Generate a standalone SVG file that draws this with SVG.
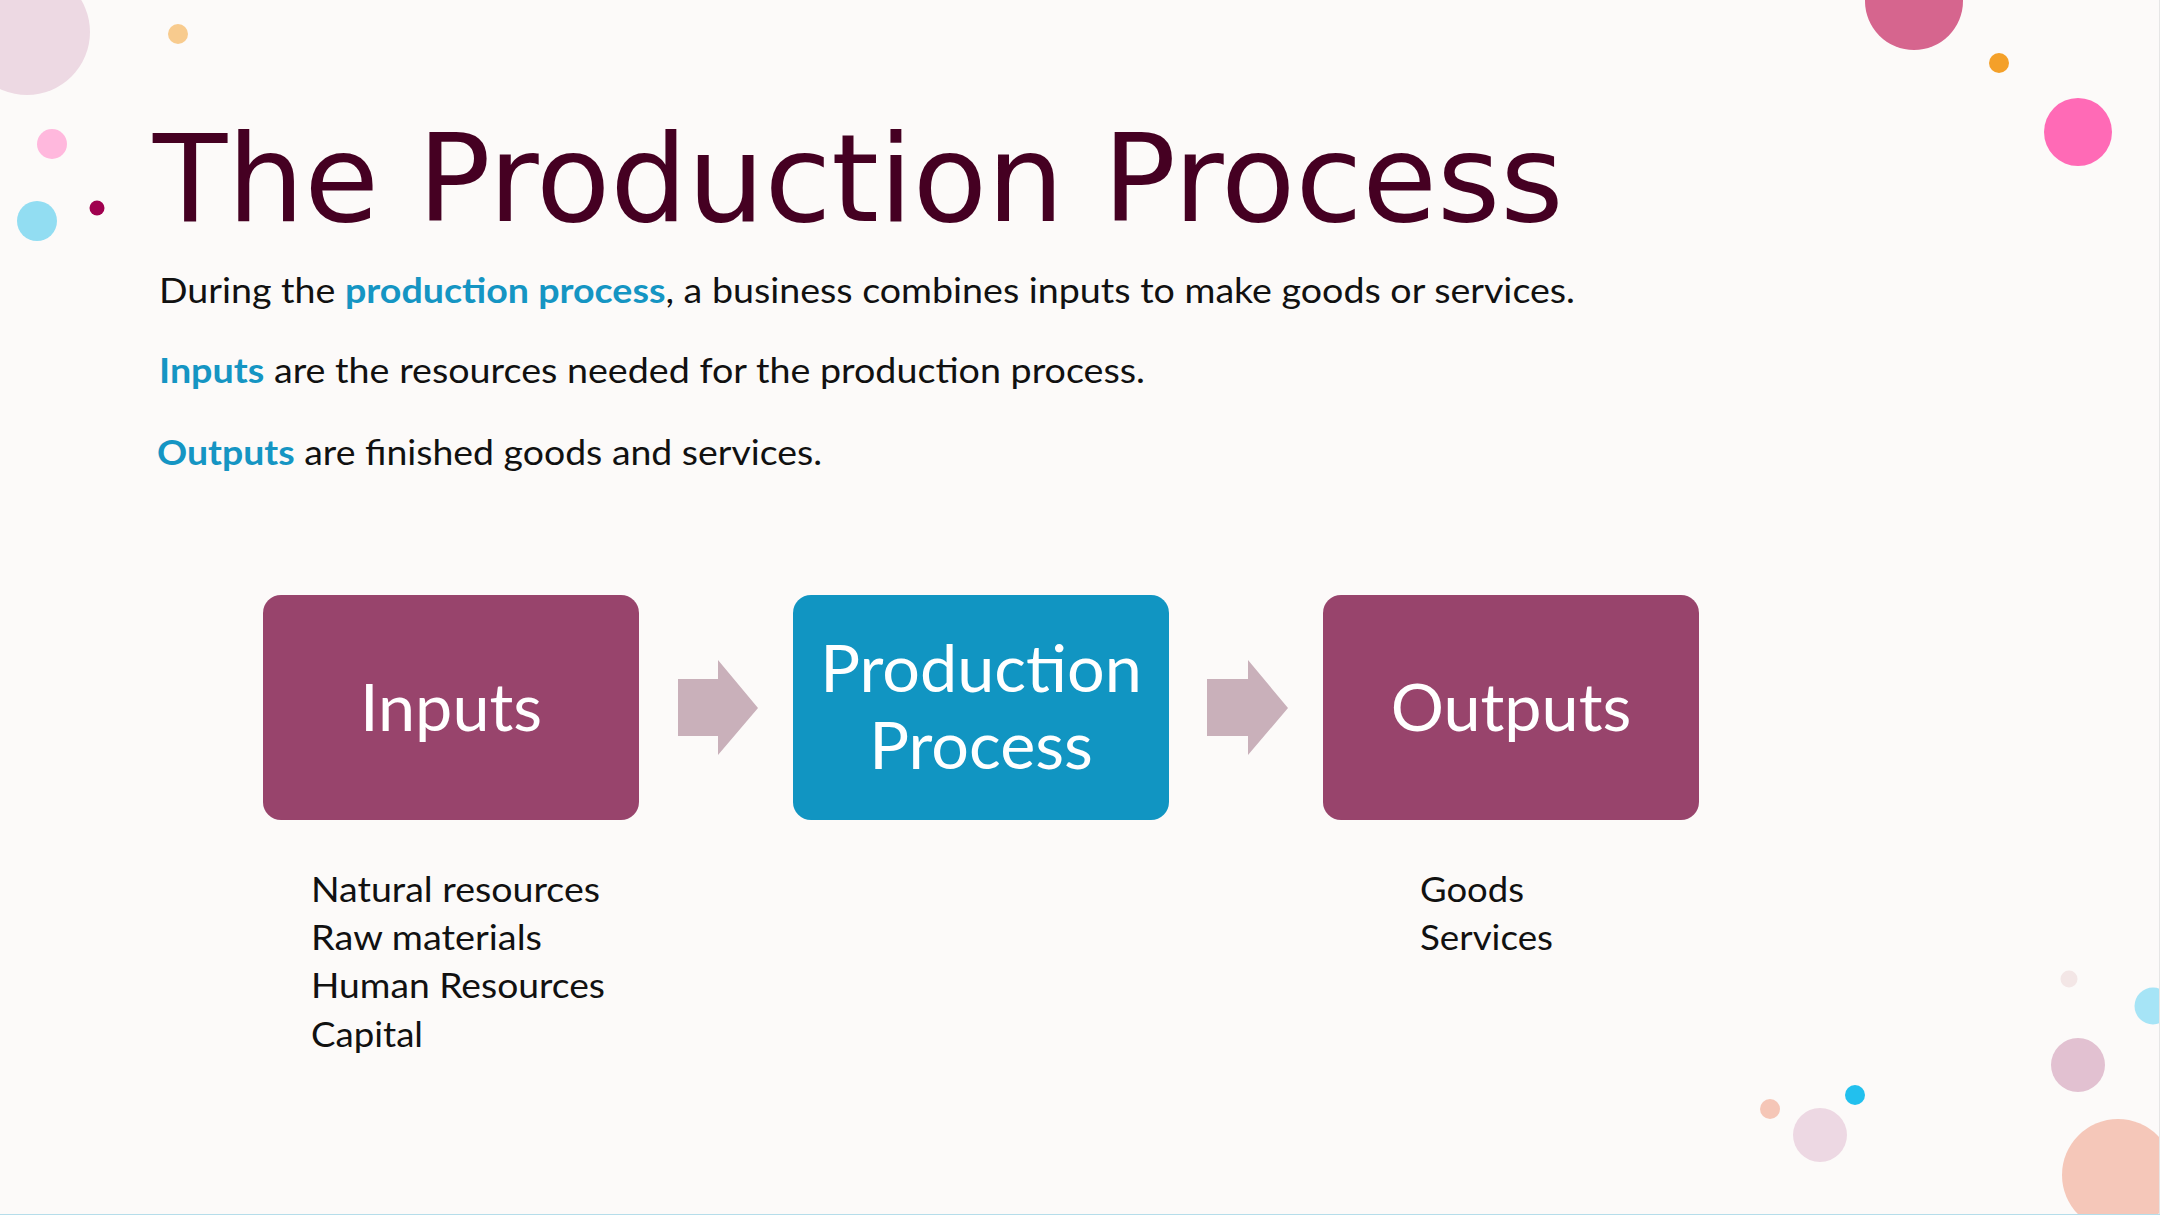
<svg xmlns="http://www.w3.org/2000/svg" width="2160" height="1215" viewBox="0 0 2160 1215">
<defs>
<style>
.body{font-family:Lato,"Open Sans","Liberation Sans",sans-serif;font-size:34px;fill:#111}
.hl{fill:#1595C3;font-weight:bold}
.box{stroke:none}
.boxtxt{font-family:Lato,"Open Sans","Liberation Sans",sans-serif;font-size:66.5px;fill:#fff;text-anchor:middle}
.arrow{fill:#C9B0BA}
.list{font-family:Lato,"Open Sans","Liberation Sans",sans-serif;font-size:34px;fill:#111}
</style>
</defs>
<rect x="0" y="0" width="2160" height="1215" fill="#FCFAF9"/>
<g id="decor">
<circle cx="27" cy="32" r="63" fill="#EDD9E3"/>
<circle cx="178" cy="34" r="10" fill="#F8CB8E"/>
<circle cx="52" cy="144" r="15" fill="#FFB8DD"/>
<circle cx="37" cy="221" r="20" fill="#92DDF2"/>
<circle cx="97" cy="208" r="7.5" fill="#A0004F"/>
<circle cx="1914" cy="1" r="49" fill="#D6658E"/>
<circle cx="1999" cy="63" r="10" fill="#F4A029"/>
<circle cx="2078" cy="132" r="34" fill="#FF6AB6"/>
<circle cx="2069" cy="979" r="8.5" fill="#F3E6E6"/>
<circle cx="2153" cy="1006" r="18.5" fill="#A6E4F6"/>
<circle cx="2078" cy="1065" r="27" fill="#E2C1D1"/>
<circle cx="2118" cy="1175" r="56" fill="#F5C7B9"/>
<circle cx="1770" cy="1109" r="10" fill="#F5C6B7"/>
<circle cx="1820" cy="1135" r="27" fill="#EDD8E3"/>
<circle cx="1855" cy="1095" r="10" fill="#22C0EE"/>
<rect x="2159" y="0" width="1" height="1215" fill="#E6E6E6"/>
<rect x="0" y="1214" width="2160" height="1" fill="#B5DDEA"/>
</g>
<g id="title">
<text x="153" y="221" font-family="'DejaVu Sans',sans-serif" font-size="121.5" fill="#450022">The Production Process</text>
</g>
<g id="intro">
<text class="body" x="159" y="303" textLength="1416" lengthAdjust="spacingAndGlyphs">During the <tspan class="hl">production process</tspan>, a business combines inputs to make goods or services.</text>
<text class="body" x="159" y="383" textLength="986" lengthAdjust="spacingAndGlyphs"><tspan class="hl">Inputs</tspan> are the resources needed for the production process.</text>
<text class="body" x="157" y="465" textLength="665" lengthAdjust="spacingAndGlyphs"><tspan class="hl">Outputs</tspan> are finished goods and services.</text>
</g>
<g id="node-inputs">
<rect class="box" x="263" y="595" width="376" height="225" rx="18" fill="#98446C"/>
<text class="boxtxt" x="451" y="731">Inputs</text>
</g>
<g id="node-production">
<rect class="box" x="793" y="595" width="376" height="225" rx="18" fill="#1195C2"/>
<text class="boxtxt" x="981" y="692">Production</text>
<text class="boxtxt" x="981" y="769">Process</text>
</g>
<g id="node-outputs">
<rect class="box" x="1323" y="595" width="376" height="225" rx="18" fill="#98446C"/>
<text class="boxtxt" x="1511" y="731">Outputs</text>
</g>
<g id="connectors">
<polygon class="arrow" points="678,679 718,679 718,660 758,708 718,755 718,736 678,736"/>
<polygon class="arrow" points="1207,679 1248,679 1248,660 1288,708 1248,755 1248,736 1207,736"/>
</g>
<g id="inputs-list">
<text class="list" x="311" y="902" textLength="289" lengthAdjust="spacingAndGlyphs">Natural resources</text>
<text class="list" x="311" y="950" textLength="231" lengthAdjust="spacingAndGlyphs">Raw materials</text>
<text class="list" x="311" y="998" textLength="294" lengthAdjust="spacingAndGlyphs">Human Resources</text>
<text class="list" x="311" y="1047" textLength="112" lengthAdjust="spacingAndGlyphs">Capital</text>
</g>
<g id="outputs-list">
<text class="list" x="1420" y="902" textLength="104" lengthAdjust="spacingAndGlyphs">Goods</text>
<text class="list" x="1420" y="950" textLength="133" lengthAdjust="spacingAndGlyphs">Services</text>
</g>
</svg>
